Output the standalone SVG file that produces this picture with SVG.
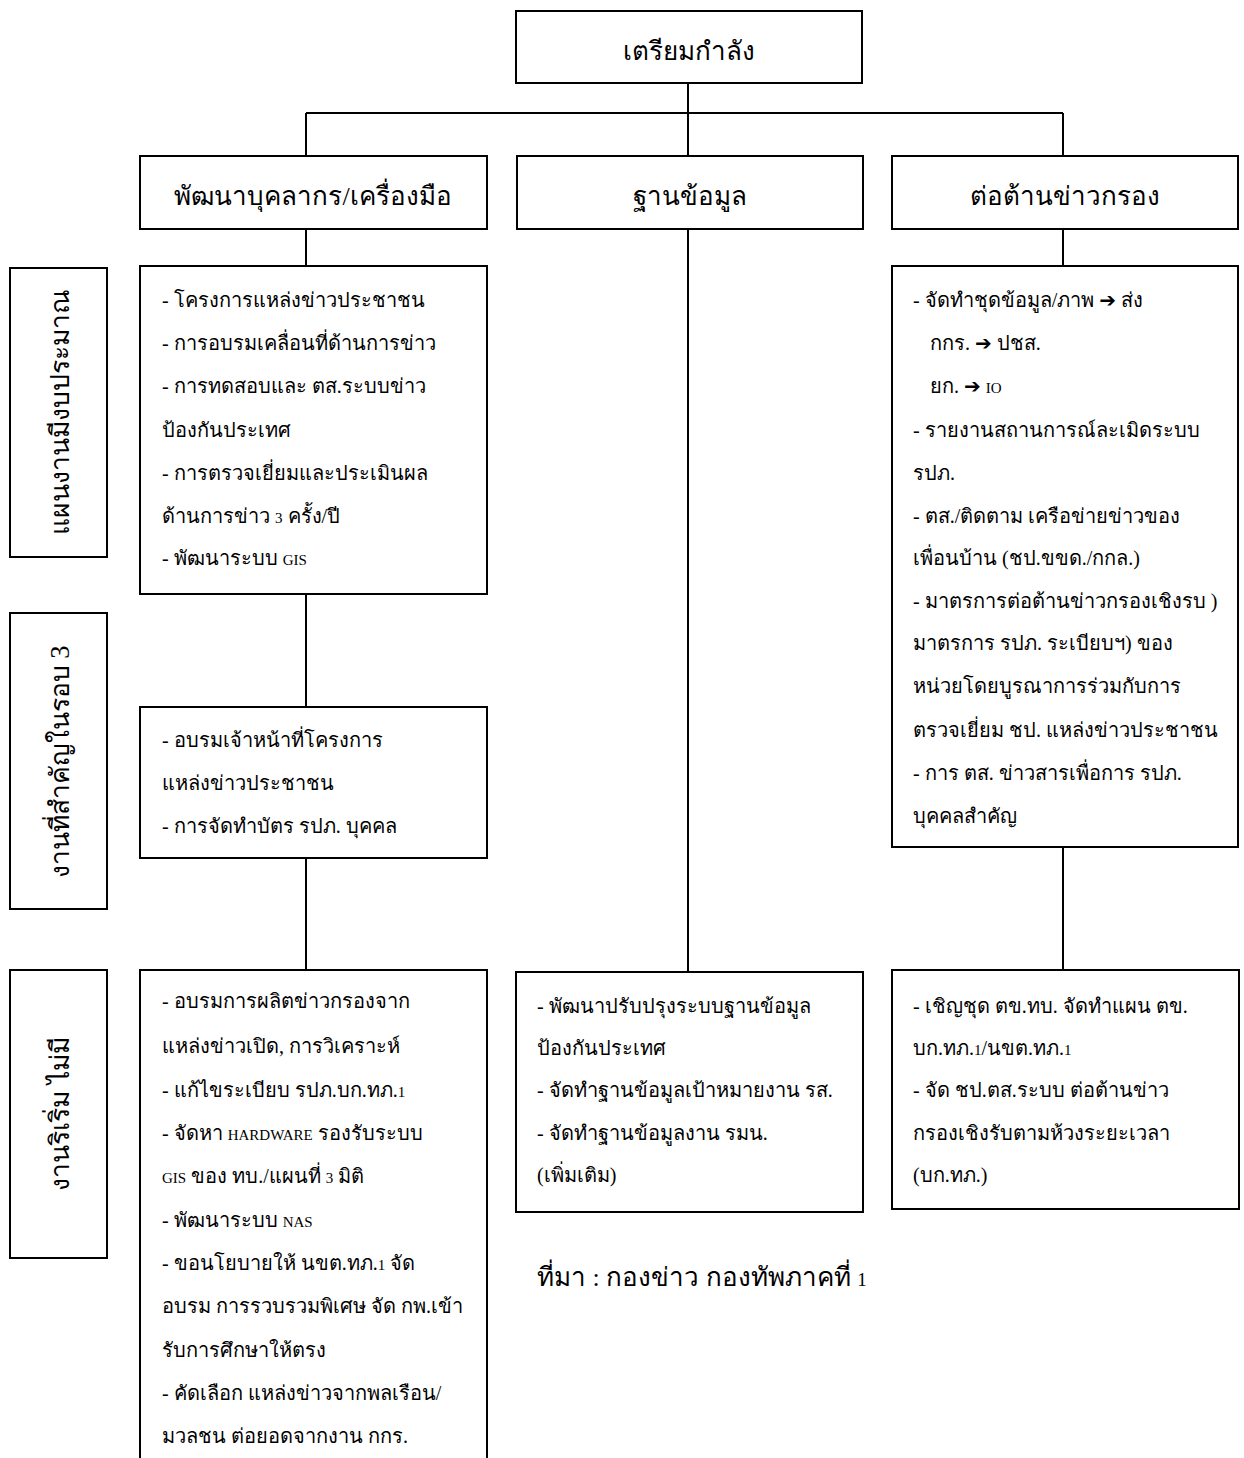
<svg xmlns="http://www.w3.org/2000/svg" width="1244" height="1458" viewBox="0 0 1244 1458" xml:space="preserve">
<style>
.box{fill:#fff;stroke:#000;stroke-width:2}
.ln{fill:none;stroke:#000;stroke-width:2}
.t{font-family:"Liberation Serif",serif;font-size:20px;fill:#000}
.h{font-family:"Liberation Serif",serif;font-size:26px;fill:#000;text-anchor:middle}
.v{font-family:"Liberation Serif",serif;font-size:26.5px;fill:#000;text-anchor:middle}
.lat{font-family:"Liberation Serif",serif;font-size:15px}
.ar{font-family:"DejaVu Sans",sans-serif;font-size:20px}
</style>
<rect width="1244" height="1458" fill="#fff"/>
<g id="connectors">
<path class="ln" d="M688,83V113M306,113H1063M306,113V156M688,113V156M1063,113V156"/>
<path class="ln" d="M306,229V266M306,594V707M306,858V970"/>
<path class="ln" d="M688,229V972"/>
<path class="ln" d="M1063,229V266M1063,847V970"/>
</g>
<g id="n-top"><rect class="box" x="516" y="11" width="346" height="72"/><text class="h" x="689" y="60">เตรียมกำลัง</text></g>
<g id="n-h1"><rect class="box" x="140" y="156" width="347" height="73"/><text class="h" x="313" y="205">พัฒนาบุคลากร/เครื่องมือ</text></g>
<g id="n-h2"><rect class="box" x="517" y="156" width="346" height="73"/><text class="h" x="690" y="205">ฐานข้อมูล</text></g>
<g id="n-h3"><rect class="box" x="892" y="156" width="346" height="73"/><text class="h" x="1065" y="205">ต่อต้านข่าวกรอง</text></g>
<g id="n-l1"><rect class="box" x="10" y="268" width="97" height="289"/><text class="v" transform="translate(69,412) rotate(-90)">แผนงานมีงบประมาณ</text></g>
<g id="n-l2"><rect class="box" x="10" y="613" width="97" height="296"/><text class="v" transform="translate(69,762) rotate(-90)">งานที่สำคัญในรอบ 3</text></g>
<g id="n-l3"><rect class="box" x="10" y="970" width="97" height="288"/><text class="v" transform="translate(69,1114) rotate(-90)">งานริเริ่ม ไม่มี</text></g>
<g id="n-a1"><rect class="box" x="140" y="266" width="347" height="328"/>
<text class="t" x="162" y="307">-  โครงการแหล่งข่าวประชาชน</text>
<text class="t" x="162" y="350">-  การอบรมเคลื่อนที่ด้านการข่าว</text>
<text class="t" x="162" y="393">-  การทดสอบและ ตส.ระบบข่าว</text>
<text class="t" x="162" y="437">ป้องกันประเทศ</text>
<text class="t" x="162" y="480">-  การตรวจเยี่ยมและประเมินผล</text>
<text class="t" x="162" y="523">ด้านการข่าว <tspan class="lat">3</tspan> ครั้ง/ปี</text>
<text class="t" x="162" y="565">-  พัฒนาระบบ <tspan class="lat">GIS</tspan></text>
</g>
<g id="n-a2"><rect class="box" x="140" y="707" width="347" height="151"/>
<text class="t" x="162" y="747">-  อบรมเจ้าหน้าที่โครงการ</text>
<text class="t" x="162" y="790">แหล่งข่าวประชาชน</text>
<text class="t" x="162" y="833">-  การจัดทำบัตร รปภ. บุคคล</text>
</g>
<g id="n-a3"><path class="box" d="M140,1460V970H487V1460"/>
<text class="t" x="162" y="1008">-  อบรมการผลิตข่าวกรองจาก</text>
<text class="t" x="162" y="1053">แหล่งข่าวเปิด, การวิเคราะห์</text>
<text class="t" x="162" y="1097">-  แก้ไขระเบียบ รปภ.บก.ทภ.<tspan class="lat">1</tspan></text>
<text class="t" x="162" y="1140">-  จัดหา <tspan class="lat">HARDWARE</tspan> รองรับระบบ</text>
<text class="t" x="162" y="1183"><tspan class="lat">GIS</tspan> ของ ทบ./แผนที่ <tspan class="lat">3</tspan> มิติ</text>
<text class="t" x="162" y="1227">-  พัฒนาระบบ <tspan class="lat">NAS</tspan></text>
<text class="t" x="162" y="1270">- ขอนโยบายให้ นขต.ทภ.<tspan class="lat">1</tspan> จัด</text>
<text class="t" x="162" y="1313">อบรม การรวบรวมพิเศษ จัด กพ.เข้า</text>
<text class="t" x="162" y="1357">รับการศึกษาให้ตรง</text>
<text class="t" x="162" y="1400">-   คัดเลือก แหล่งข่าวจากพลเรือน/</text>
<text class="t" x="162" y="1443">มวลชน ต่อยอดจากงาน กกร.</text>
</g>
<g id="n-b3"><rect class="box" x="516" y="972" width="347" height="240"/>
<text class="t" x="537" y="1013">-  พัฒนาปรับปรุงระบบฐานข้อมูล</text>
<text class="t" x="537" y="1055">ป้องกันประเทศ</text>
<text class="t" x="537" y="1097">-  จัดทำฐานข้อมูลเป้าหมายงาน รส.</text>
<text class="t" x="537" y="1140">-  จัดทำฐานข้อมูลงาน รมน.</text>
<text class="t" x="537" y="1182">(เพิ่มเติม)</text>
</g>
<g id="n-c1"><rect class="box" x="892" y="266" width="346" height="581"/>
<text class="t" x="913" y="307">-  จัดทำชุดข้อมูล/ภาพ <tspan class="ar">➔</tspan> ส่ง</text>
<text class="t" x="930" y="350">กกร.  <tspan class="ar">➔</tspan>  ปชส.</text>
<text class="t" x="930" y="393">ยก.  <tspan class="ar">➔</tspan>  <tspan class="lat">IO</tspan></text>
<text class="t" x="913" y="437">- รายงานสถานการณ์ละเมิดระบบ</text>
<text class="t" x="913" y="480">รปภ.</text>
<text class="t" x="913" y="523">-  ตส./ติดตาม เครือข่ายข่าวของ</text>
<text class="t" x="913" y="565">เพื่อนบ้าน (ชป.ขขด./กกล.)</text>
<text class="t" x="913" y="608">- มาตรการต่อต้านข่าวกรองเชิงรบ )</text>
<text class="t" x="913" y="650">มาตรการ รปภ. ระเบียบฯ) ของ</text>
<text class="t" x="913" y="693">หน่วยโดยบูรณาการร่วมกับการ</text>
<text class="t" x="913" y="737">ตรวจเยี่ยม ชป. แหล่งข่าวประชาชน</text>
<text class="t" x="913" y="780">-  การ ตส. ข่าวสารเพื่อการ รปภ.</text>
<text class="t" x="913" y="823">บุคคลสำคัญ</text>
</g>
<g id="n-c3"><rect class="box" x="892" y="970" width="347" height="239"/>
<text class="t" x="913" y="1013">-  เชิญชุด ตข.ทบ. จัดทำแผน ตข.</text>
<text class="t" x="913" y="1055">บก.ทภ.<tspan class="lat">1</tspan>/นขต.ทภ.<tspan class="lat">1</tspan></text>
<text class="t" x="913" y="1097">-  จัด ชป.ตส.ระบบ ต่อต้านข่าว</text>
<text class="t" x="913" y="1140">กรองเชิงรับตามห้วงระยะเวลา</text>
<text class="t" x="913" y="1182">(บก.ทภ.)</text>
</g>
<g id="n-src"><text class="t" x="537" y="1286" style="font-size:26px">ที่มา : กองข่าว กองทัพภาคที่ <tspan class="lat" style="font-size:19px">1</tspan></text></g>
</svg>
